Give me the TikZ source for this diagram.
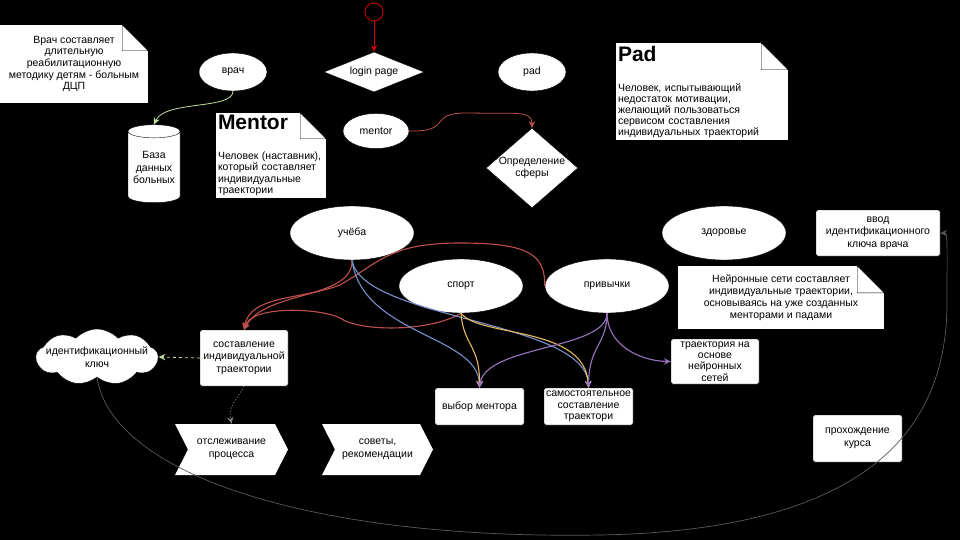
\documentclass[tikz,border=0pt]{standalone}
\usepackage{fontspec}
\setmainfont{Liberation Sans}
\usepackage{tikz}
\usetikzlibrary{shapes.geometric, shapes.symbols, arrows.meta, positioning, calc}
\definecolor{lred}{RGB}{192,80,77}
\definecolor{lblue}{RGB}{120,145,205}
\definecolor{lyellow}{RGB}{232,186,96}
\definecolor{lpurple}{RGB}{152,116,190}
\definecolor{lgreen}{RGB}{196,222,160}
\definecolor{dline}{RGB}{90,90,90}
\newcommand{\titlefont}{\fontsize{21}{24}\selectfont\bfseries}
\newcommand{\dogear}[2]{%
  \fill[black] (#1.north east) -- ++(-#2,0) -- ++(#2,#2) -- cycle;
  \draw[black,fill=white] ([xshift=-#2pt]#1.north east) -- ++(0,#2) -- ++(#2,0) -- cycle;}
\tikzset{every node/.style={font=\fontsize{10.5}{12.5}\selectfont},
         oval/.style={ellipse,draw=black,fill=white,inner sep=0pt,minimum width=124pt,minimum height=54pt},
         box/.style={rectangle,draw=black,fill=white,rounded corners=1.5pt,align=center,inner sep=1pt},
         note/.style={rectangle,fill=white,inner sep=2pt,font=\fontsize{10.5}{11.6}\selectfont},
         decision/.style={diamond,draw=black,fill=white,inner sep=0pt,align=center},
         chev/.style={signal,signal from=west,signal to=east,signal pointer angle=126,fill=white,align=center,inner sep=0pt},
         db/.style={cylinder,shape border rotate=90,aspect=0.3,draw=black,fill=white,align=center,inner sep=1pt},
         cloudy/.style={cloud,cloud puffs=9,cloud puff arc=95,draw=black,fill=white,aspect=2.2,inner sep=0pt},
         startc/.style={circle,draw=red!80!black,fill=black,thick,minimum size=18pt,inner sep=0pt},
         link/.style={-{Stealth[length=2.4mm,width=2.2mm]},line width=1.1pt}}

\begin{document}
\begin{tikzpicture}[x=1pt,y=-1pt]
    % Background
    \useasboundingbox (0,0) rectangle (960,540);
    \fill[black] (0,0) rectangle (960,540);
    % Notes
    \node (vrachnote) at (74,64) [note,minimum width=148pt,minimum height=78pt,align=center]{Врач составляет\\длительную\\реабилитационную\\методику детям - больным\\ДЦП};
    \dogear{vrachnote}{26}
    \node (mentornote) at (271,155.5) [note,minimum width=110pt,minimum height=85pt,text width=106pt,align=left]{{\titlefont Mentor}\\[18pt]Человек (наставник),\\который составляет\\индивидуальные\\траектории};
    \dogear{mentornote}{26}
    \node (padnote) at (702,91.5) [note,minimum width=172pt,minimum height=97pt,text width=168pt,align=left,font=\fontsize{10.5}{11}\selectfont]{{\titlefont Pad}\\[19pt]Человек, испытывающий\\недостаток мотивации,\\желающий пользоваться\\сервисом составления\\индивидуальных траекторий};
    \dogear{padnote}{27}
    \node (neironote) at (781,297.5) [note,minimum width=206pt,minimum height=63pt,align=center,font=\fontsize{10.5}{12}\selectfont]{Нейронные сети составляет\\индивидуальные траектории,\\основываясь на уже созданных\\менторами и падами};
    \dogear{neironote}{27}
    % Roles and start
    \node (start) at (374,12) [startc]{};
    \node (login) at (374,72) [decision,minimum width=100pt,minimum height=40pt,aspect=2.5]{login page};
    \node (vrach) at (233,72) [oval,minimum width=68pt,minimum height=38pt]{врач};
    \node (pad) at (532,72) [oval,minimum width=68pt,minimum height=38pt]{pad};
    \node (mentor) at (376,131) [oval,minimum width=66pt,minimum height=35pt]{mentor};
    \node (sfera) at (532,168) [decision,minimum width=90pt,minimum height=78pt,aspect=1.15]{Определение\\сферы};
    \node (baza) at (154,168) [db,minimum width=52pt,minimum height=78pt]{\\[-6pt]База\\данных\\больных};
    % Spheres
    \node (ucheba) at (352,233) [oval]{учёба};
    \node (zdorov) at (724,233) [oval]{здоровье};
    \node (sport) at (461,286) [oval]{спорт};
    \node (privych) at (607,286) [oval]{привычки};
    % Results
    \node (vvod) at (878,233) [box,minimum width=124pt,minimum height=46pt]{ввод\\идентификационного\\ключа врача};
    \node (neirotraj) at (715,361.5) [box,minimum width=88pt,minimum height=45pt,font=\fontsize{10.5}{11.3}\selectfont]{траектория на\\основе\\нейронных\\сетей};
    \node (sostav) at (244,358) [box,minimum width=88pt,minimum height=56pt]{составление\\индивидуальной\\траектории};
    \node (kluch) at (97,357) [cloudy,minimum width=122pt,minimum height=56pt,label={[align=center]center:идентификационный\\ключ}]{};
    \node (vybor) at (479.5,406.5) [box,minimum width=89pt,minimum height=37pt]{выбор ментора};
    \node (samost) at (588.5,406.5) [box,minimum width=89pt,minimum height=37pt,font=\fontsize{10.5}{11.5}\selectfont]{самостоятельное\\составление\\траектори};
    \node (otslezh) at (231.5,449.5) [chev,minimum width=113pt,minimum height=51pt]{отслеживание\\процесса};
    \node (sovety) at (377.5,449.5) [chev,minimum width=111pt,minimum height=51pt]{советы,\\рекомендации};
    \node (kurs) at (857.5,438.5) [box,minimum width=89pt,minimum height=47pt]{прохождение\\курса};
    % Links
    \draw[link,red!80!black,line width=0.8pt] (start) -- (login.north);
    \draw[link,lgreen,line width=0.8pt] (vrach.south) .. controls (233,110) and (165,100) .. (baza.north);
    \draw[link,lred,line width=0.8pt] (mentor.east) .. controls (455,132) and (425,112) .. (470,113) .. controls (515,114) and (532,110) .. (sfera.north);
    \draw[link,lred] (ucheba.south) .. controls (353,300) and (265,290) .. (sostav.north);
    \draw[link,lred] (privych.west) .. controls (545,255) and (530,243) .. (460,243) .. controls (390,243) and (380,262) .. (340,285) .. controls (300,300) and (250,295) .. (sostav.north);
    \draw[link,lred] (sport.south) .. controls (430,332) and (360,332) .. (340,318) .. controls (320,308) and (252,305) .. (sostav.north);
    \draw[link,lblue] (ucheba.south) .. controls (362,335) and (478,335) .. (vybor.north);
    \draw[link,lblue] (ucheba.south) .. controls (362,320) and (585,320) .. (samost.north);
    \draw[link,lyellow] (sport.south) .. controls (463,345) and (480,345) .. (vybor.north);
    \draw[link,lyellow] (sport.south) .. controls (480,338) and (585,325) .. (samost.north);
    \draw[link,lpurple] (privych.south) .. controls (607,350) and (485,345) .. (vybor.north);
    \draw[link,lpurple] (privych.south) .. controls (607,345) and (589,345) .. (samost.north);
    \draw[link,lpurple] (privych.south) .. controls (607,345) and (640,361) .. (neirotraj.west);
    \draw[link,lgreen,dashed,line width=0.8pt] (sostav.west) -- (kluch.east);
    \draw[link,gray,dotted,line width=0.8pt] (sostav.south) .. controls (237,400) and (228,405) .. (otslezh.north);
    \draw[link,dline,line width=0.7pt] (kluch.south) .. controls (110,470) and (300,540) .. (600,535) .. controls (880,530) and (948,420) .. (947,300) .. controls (947,250) and (948,233) .. (vvod.east);
\end{tikzpicture}
\end{document}
